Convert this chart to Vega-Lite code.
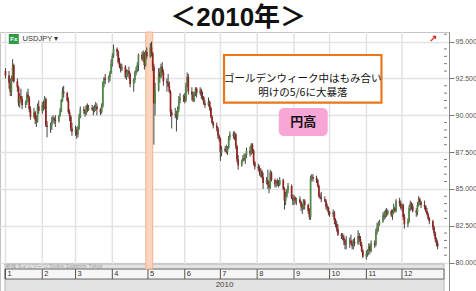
{
  "$schema": "https://vega.github.io/schema/vega-lite/v6.json",
  "width": 449,
  "height": 260,
  "padding": {"top": 5, "left": 0, "right": 0, "bottom": 0},
  "background": "white",
  "title": {"text": "＜2010年＞", "fontSize": 26, "font": "Liberation Sans, Noto Sans CJK JP", "fontWeight": "bold", "color": "#111111", "anchor": "middle", "frame": "bounds", "offset": 0},
  "config": {"view": {"stroke": "#c4c4c4", "fill": "white"}},
  "datasets": {
    "one": [{}],
    "minor": [
      {"v": 80.5}, {"v": 81}, {"v": 81.5}, {"v": 82}, {"v": 83}, {"v": 83.5}, {"v": 84}, {"v": 84.5},
      {"v": 85.5}, {"v": 86}, {"v": 86.5}, {"v": 87}, {"v": 88}, {"v": 88.5}, {"v": 89}, {"v": 89.5},
      {"v": 90.5}, {"v": 91}, {"v": 91.5}, {"v": 92}, {"v": 93}, {"v": 93.5}, {"v": 94}, {"v": 94.5}, {"v": 95.5}
    ],
    "months": [
      {"m": "2010-01-01", "n": "1"}, {"m": "2010-02-01", "n": "2"}, {"m": "2010-03-01", "n": "3"},
      {"m": "2010-04-01", "n": "4"}, {"m": "2010-05-01", "n": "5"}, {"m": "2010-06-01", "n": "6"},
      {"m": "2010-07-01", "n": "7"}, {"m": "2010-08-01", "n": "8"}, {"m": "2010-09-01", "n": "9"},
      {"m": "2010-10-01", "n": "10"}, {"m": "2010-11-01", "n": "11"}, {"m": "2010-12-01", "n": "12"}
    ],
    "fx": [
      {"d":"2010-01-01","o":93.0,"h":93.2,"l":92.5,"c":92.7},
      {"d":"2010-01-04","o":92.7,"h":93.0,"l":91.8,"c":92.2},
      {"d":"2010-01-05","o":92.2,"h":92.5,"l":91.3,"c":91.6},
      {"d":"2010-01-06","o":91.6,"h":92.7,"l":91.3,"c":92.5},
      {"d":"2010-01-07","o":92.5,"h":93.8,"l":92.3,"c":93.4},
      {"d":"2010-01-08","o":93.4,"h":93.5,"l":92.2,"c":92.3},
      {"d":"2010-01-11","o":92.3,"h":92.5,"l":91.6,"c":91.9},
      {"d":"2010-01-12","o":91.9,"h":92.0,"l":90.6,"c":90.8},
      {"d":"2010-01-13","o":90.8,"h":91.5,"l":90.5,"c":91.3},
      {"d":"2010-01-14","o":91.3,"h":91.8,"l":90.9,"c":91.1},
      {"d":"2010-01-15","o":91.1,"h":91.3,"l":90.4,"c":90.7},
      {"d":"2010-01-18","o":90.7,"h":91.0,"l":90.5,"c":90.9},
      {"d":"2010-01-19","o":90.9,"h":91.6,"l":90.7,"c":91.4},
      {"d":"2010-01-20","o":91.4,"h":91.8,"l":90.9,"c":91.2},
      {"d":"2010-01-21","o":91.2,"h":91.3,"l":90.2,"c":90.4},
      {"d":"2010-01-22","o":90.4,"h":90.6,"l":89.7,"c":89.9},
      {"d":"2010-01-25","o":89.9,"h":90.5,"l":89.8,"c":90.2},
      {"d":"2010-01-26","o":90.2,"h":90.3,"l":89.4,"c":89.7},
      {"d":"2010-01-27","o":89.7,"h":90.0,"l":89.2,"c":89.6},
      {"d":"2010-01-28","o":89.6,"h":90.8,"l":89.5,"c":90.6},
      {"d":"2010-01-29","o":90.6,"h":91.0,"l":90.1,"c":90.3},
      {"d":"2010-02-01","o":90.3,"h":90.9,"l":90.1,"c":90.7},
      {"d":"2010-02-02","o":90.7,"h":91.0,"l":90.3,"c":90.5},
      {"d":"2010-02-03","o":90.5,"h":91.3,"l":90.4,"c":91.1},
      {"d":"2010-02-04","o":91.1,"h":91.2,"l":89.2,"c":89.3},
      {"d":"2010-02-05","o":89.3,"h":89.6,"l":88.5,"c":89.2},
      {"d":"2010-02-08","o":89.2,"h":89.5,"l":88.8,"c":89.3},
      {"d":"2010-02-09","o":89.3,"h":89.9,"l":89.0,"c":89.7},
      {"d":"2010-02-10","o":89.7,"h":90.0,"l":89.5,"c":89.8},
      {"d":"2010-02-11","o":89.8,"h":89.9,"l":89.4,"c":89.7},
      {"d":"2010-02-12","o":89.7,"h":90.0,"l":89.2,"c":89.6},
      {"d":"2010-02-15","o":89.6,"h":90.0,"l":89.5,"c":90.0},
      {"d":"2010-02-16","o":90.0,"h":90.5,"l":89.9,"c":90.3},
      {"d":"2010-02-17","o":90.3,"h":91.1,"l":90.2,"c":91.0},
      {"d":"2010-02-18","o":91.0,"h":91.9,"l":90.9,"c":91.6},
      {"d":"2010-02-19","o":91.6,"h":92.0,"l":91.2,"c":91.5},
      {"d":"2010-02-22","o":91.5,"h":91.6,"l":90.9,"c":91.0},
      {"d":"2010-02-23","o":91.0,"h":91.2,"l":90.1,"c":90.2},
      {"d":"2010-02-24","o":90.2,"h":90.4,"l":89.6,"c":89.9},
      {"d":"2010-02-25","o":89.9,"h":90.0,"l":88.9,"c":89.1},
      {"d":"2010-02-26","o":89.1,"h":89.5,"l":88.6,"c":88.9},
      {"d":"2010-03-01","o":88.9,"h":89.3,"l":88.6,"c":89.0},
      {"d":"2010-03-02","o":89.0,"h":89.2,"l":88.4,"c":88.7},
      {"d":"2010-03-03","o":88.7,"h":89.3,"l":88.5,"c":89.1},
      {"d":"2010-03-04","o":89.1,"h":90.1,"l":89.0,"c":89.9},
      {"d":"2010-03-05","o":89.9,"h":90.6,"l":89.8,"c":90.4},
      {"d":"2010-03-08","o":90.4,"h":90.6,"l":90.1,"c":90.3},
      {"d":"2010-03-09","o":90.3,"h":90.4,"l":89.9,"c":90.1},
      {"d":"2010-03-10","o":90.1,"h":90.7,"l":90.0,"c":90.6},
      {"d":"2010-03-11","o":90.6,"h":90.8,"l":90.2,"c":90.4},
      {"d":"2010-03-12","o":90.4,"h":90.7,"l":90.3,"c":90.5},
      {"d":"2010-03-15","o":90.5,"h":90.7,"l":90.3,"c":90.4},
      {"d":"2010-03-16","o":90.4,"h":90.6,"l":90.0,"c":90.3},
      {"d":"2010-03-17","o":90.3,"h":90.7,"l":90.2,"c":90.5},
      {"d":"2010-03-18","o":90.5,"h":90.9,"l":90.3,"c":90.6},
      {"d":"2010-03-19","o":90.6,"h":90.8,"l":90.0,"c":90.4},
      {"d":"2010-03-22","o":90.4,"h":90.5,"l":90.0,"c":90.2},
      {"d":"2010-03-23","o":90.2,"h":90.8,"l":90.1,"c":90.6},
      {"d":"2010-03-24","o":90.6,"h":92.3,"l":90.5,"c":92.2},
      {"d":"2010-03-25","o":92.2,"h":92.6,"l":91.9,"c":92.5},
      {"d":"2010-03-26","o":92.5,"h":92.8,"l":92.1,"c":92.4},
      {"d":"2010-03-29","o":92.4,"h":92.7,"l":92.2,"c":92.6},
      {"d":"2010-03-30","o":92.6,"h":93.0,"l":92.3,"c":92.9},
      {"d":"2010-03-31","o":92.9,"h":93.8,"l":92.8,"c":93.5},
      {"d":"2010-04-01","o":93.5,"h":94.2,"l":93.3,"c":94.0},
      {"d":"2010-04-02","o":94.0,"h":94.8,"l":93.9,"c":94.5},
      {"d":"2010-04-05","o":94.5,"h":94.6,"l":94.0,"c":94.3},
      {"d":"2010-04-06","o":94.3,"h":94.4,"l":93.5,"c":93.6},
      {"d":"2010-04-07","o":93.6,"h":93.9,"l":93.2,"c":93.3},
      {"d":"2010-04-08","o":93.3,"h":93.5,"l":92.9,"c":93.1},
      {"d":"2010-04-09","o":93.1,"h":93.5,"l":93.0,"c":93.3},
      {"d":"2010-04-12","o":93.3,"h":93.4,"l":92.5,"c":92.6},
      {"d":"2010-04-13","o":92.6,"h":93.1,"l":92.4,"c":92.9},
      {"d":"2010-04-14","o":92.9,"h":93.1,"l":92.6,"c":93.0},
      {"d":"2010-04-15","o":93.0,"h":93.3,"l":92.5,"c":92.8},
      {"d":"2010-04-16","o":92.8,"h":92.9,"l":91.9,"c":92.1},
      {"d":"2010-04-19","o":92.1,"h":92.5,"l":91.6,"c":92.4},
      {"d":"2010-04-20","o":92.4,"h":93.0,"l":92.2,"c":92.9},
      {"d":"2010-04-21","o":92.9,"h":93.3,"l":92.7,"c":93.1},
      {"d":"2010-04-22","o":93.1,"h":93.6,"l":92.9,"c":93.4},
      {"d":"2010-04-23","o":93.4,"h":94.2,"l":93.0,"c":94.1},
      {"d":"2010-04-26","o":94.1,"h":94.3,"l":93.7,"c":93.8},
      {"d":"2010-04-27","o":93.8,"h":94.4,"l":93.6,"c":94.2},
      {"d":"2010-04-28","o":94.2,"h":94.3,"l":93.1,"c":93.4},
      {"d":"2010-04-29","o":93.4,"h":94.4,"l":93.3,"c":94.3},
      {"d":"2010-04-30","o":94.3,"h":94.6,"l":93.8,"c":94.0},
      {"d":"2010-05-03","o":94.0,"h":94.9,"l":93.9,"c":94.6},
      {"d":"2010-05-04","o":94.6,"h":95.0,"l":94.0,"c":94.2},
      {"d":"2010-05-05","o":94.2,"h":94.3,"l":93.0,"c":93.3},
      {"d":"2010-05-06","o":93.3,"h":93.5,"l":88.0,"c":90.8},
      {"d":"2010-05-07","o":90.8,"h":92.2,"l":90.0,"c":91.7},
      {"d":"2010-05-10","o":91.7,"h":93.2,"l":91.6,"c":92.9},
      {"d":"2010-05-11","o":92.9,"h":93.2,"l":92.2,"c":92.6},
      {"d":"2010-05-12","o":92.6,"h":93.5,"l":92.5,"c":93.3},
      {"d":"2010-05-13","o":93.3,"h":93.6,"l":92.7,"c":92.9},
      {"d":"2010-05-14","o":92.9,"h":93.1,"l":92.0,"c":92.3},
      {"d":"2010-05-17","o":92.3,"h":92.5,"l":91.6,"c":92.2},
      {"d":"2010-05-18","o":92.2,"h":92.8,"l":91.9,"c":92.0},
      {"d":"2010-05-19","o":92.0,"h":92.3,"l":91.5,"c":91.6},
      {"d":"2010-05-20","o":91.6,"h":91.7,"l":89.9,"c":90.2},
      {"d":"2010-05-21","o":90.2,"h":90.4,"l":89.1,"c":90.0},
      {"d":"2010-05-24","o":90.0,"h":90.5,"l":89.8,"c":90.1},
      {"d":"2010-05-25","o":90.1,"h":90.3,"l":88.9,"c":89.9},
      {"d":"2010-05-26","o":89.9,"h":90.6,"l":89.7,"c":90.4},
      {"d":"2010-05-27","o":90.4,"h":91.3,"l":90.2,"c":91.0},
      {"d":"2010-05-28","o":91.0,"h":91.5,"l":90.8,"c":91.2},
      {"d":"2010-05-31","o":91.2,"h":91.4,"l":90.9,"c":91.3},
      {"d":"2010-06-01","o":91.3,"h":91.5,"l":90.8,"c":91.0},
      {"d":"2010-06-02","o":91.0,"h":92.2,"l":90.9,"c":92.0},
      {"d":"2010-06-03","o":92.0,"h":92.9,"l":91.9,"c":92.6},
      {"d":"2010-06-04","o":92.6,"h":92.8,"l":91.4,"c":91.6},
      {"d":"2010-06-07","o":91.6,"h":91.9,"l":91.0,"c":91.4},
      {"d":"2010-06-08","o":91.4,"h":91.6,"l":90.9,"c":91.0},
      {"d":"2010-06-09","o":91.0,"h":91.6,"l":90.9,"c":91.5},
      {"d":"2010-06-10","o":91.5,"h":91.9,"l":91.3,"c":91.8},
      {"d":"2010-06-11","o":91.8,"h":91.9,"l":91.2,"c":91.5},
      {"d":"2010-06-14","o":91.5,"h":91.9,"l":91.4,"c":91.7},
      {"d":"2010-06-15","o":91.7,"h":91.8,"l":91.1,"c":91.3},
      {"d":"2010-06-16","o":91.3,"h":91.6,"l":91.0,"c":91.2},
      {"d":"2010-06-17","o":91.2,"h":91.3,"l":90.7,"c":90.8},
      {"d":"2010-06-18","o":90.8,"h":91.0,"l":90.5,"c":90.7},
      {"d":"2010-06-21","o":90.7,"h":91.2,"l":90.6,"c":90.9},
      {"d":"2010-06-22","o":90.9,"h":91.0,"l":90.3,"c":90.5},
      {"d":"2010-06-23","o":90.5,"h":90.6,"l":89.8,"c":89.9},
      {"d":"2010-06-24","o":89.9,"h":90.0,"l":89.4,"c":89.5},
      {"d":"2010-06-25","o":89.5,"h":89.6,"l":89.1,"c":89.3},
      {"d":"2010-06-28","o":89.3,"h":89.5,"l":88.9,"c":89.1},
      {"d":"2010-06-29","o":89.1,"h":89.2,"l":88.4,"c":88.6},
      {"d":"2010-06-30","o":88.6,"h":88.7,"l":88.2,"c":88.4},
      {"d":"2010-07-01","o":88.4,"h":88.5,"l":86.9,"c":87.5},
      {"d":"2010-07-02","o":87.5,"h":87.9,"l":87.2,"c":87.7},
      {"d":"2010-07-05","o":87.7,"h":87.9,"l":87.5,"c":87.6},
      {"d":"2010-07-06","o":87.6,"h":88.0,"l":87.4,"c":87.5},
      {"d":"2010-07-07","o":87.5,"h":87.9,"l":87.3,"c":87.8},
      {"d":"2010-07-08","o":87.8,"h":88.6,"l":87.7,"c":88.5},
      {"d":"2010-07-09","o":88.5,"h":88.9,"l":88.3,"c":88.7},
      {"d":"2010-07-12","o":88.7,"h":88.9,"l":88.4,"c":88.6},
      {"d":"2010-07-13","o":88.6,"h":88.9,"l":88.3,"c":88.7},
      {"d":"2010-07-14","o":88.7,"h":88.8,"l":87.7,"c":87.9},
      {"d":"2010-07-15","o":87.9,"h":88.0,"l":86.8,"c":87.0},
      {"d":"2010-07-16","o":87.0,"h":87.3,"l":86.3,"c":86.6},
      {"d":"2010-07-19","o":86.6,"h":87.0,"l":86.5,"c":86.9},
      {"d":"2010-07-20","o":86.9,"h":87.3,"l":86.8,"c":87.1},
      {"d":"2010-07-21","o":87.1,"h":87.4,"l":86.9,"c":87.0},
      {"d":"2010-07-22","o":87.0,"h":87.4,"l":86.7,"c":87.3},
      {"d":"2010-07-23","o":87.3,"h":87.8,"l":87.1,"c":87.6},
      {"d":"2010-07-26","o":87.6,"h":87.9,"l":87.2,"c":87.4},
      {"d":"2010-07-27","o":87.4,"h":88.1,"l":87.3,"c":88.0},
      {"d":"2010-07-28","o":88.0,"h":88.1,"l":87.4,"c":87.6},
      {"d":"2010-07-29","o":87.6,"h":87.7,"l":86.6,"c":86.8},
      {"d":"2010-07-30","o":86.8,"h":86.9,"l":86.3,"c":86.5},
      {"d":"2010-08-02","o":86.5,"h":86.7,"l":86.2,"c":86.4},
      {"d":"2010-08-03","o":86.4,"h":86.6,"l":85.9,"c":86.1},
      {"d":"2010-08-04","o":86.1,"h":86.4,"l":85.8,"c":86.2},
      {"d":"2010-08-05","o":86.2,"h":86.3,"l":85.7,"c":85.8},
      {"d":"2010-08-06","o":85.8,"h":86.1,"l":85.0,"c":85.4},
      {"d":"2010-08-09","o":85.4,"h":85.8,"l":85.3,"c":85.6},
      {"d":"2010-08-10","o":85.6,"h":86.3,"l":85.0,"c":85.3},
      {"d":"2010-08-11","o":85.3,"h":85.5,"l":84.7,"c":85.1},
      {"d":"2010-08-12","o":85.1,"h":86.3,"l":85.0,"c":86.1},
      {"d":"2010-08-13","o":86.1,"h":86.2,"l":85.5,"c":85.6},
      {"d":"2010-08-16","o":85.6,"h":85.7,"l":85.1,"c":85.3},
      {"d":"2010-08-17","o":85.3,"h":85.6,"l":85.1,"c":85.5},
      {"d":"2010-08-18","o":85.5,"h":85.7,"l":85.2,"c":85.4},
      {"d":"2010-08-19","o":85.4,"h":85.6,"l":85.1,"c":85.3},
      {"d":"2010-08-20","o":85.3,"h":85.8,"l":85.2,"c":85.6},
      {"d":"2010-08-23","o":85.6,"h":85.7,"l":84.9,"c":85.0},
      {"d":"2010-08-24","o":85.0,"h":85.1,"l":83.6,"c":84.2},
      {"d":"2010-08-25","o":84.2,"h":84.8,"l":83.9,"c":84.5},
      {"d":"2010-08-26","o":84.5,"h":85.0,"l":84.4,"c":84.9},
      {"d":"2010-08-27","o":84.9,"h":85.4,"l":84.7,"c":85.2},
      {"d":"2010-08-30","o":85.2,"h":85.3,"l":84.3,"c":84.4},
      {"d":"2010-08-31","o":84.4,"h":84.6,"l":83.9,"c":84.2},
      {"d":"2010-09-01","o":84.2,"h":84.6,"l":83.9,"c":84.4},
      {"d":"2010-09-02","o":84.4,"h":84.5,"l":84.0,"c":84.2},
      {"d":"2010-09-03","o":84.2,"h":84.4,"l":83.9,"c":84.3},
      {"d":"2010-09-06","o":84.3,"h":84.5,"l":84.0,"c":84.1},
      {"d":"2010-09-07","o":84.1,"h":84.2,"l":83.5,"c":83.8},
      {"d":"2010-09-08","o":83.8,"h":84.0,"l":83.3,"c":83.7},
      {"d":"2010-09-09","o":83.7,"h":84.3,"l":83.6,"c":84.2},
      {"d":"2010-09-10","o":84.2,"h":84.3,"l":83.6,"c":83.9},
      {"d":"2010-09-13","o":83.9,"h":84.0,"l":83.3,"c":83.5},
      {"d":"2010-09-14","o":83.5,"h":83.7,"l":82.9,"c":83.1},
      {"d":"2010-09-15","o":83.1,"h":85.9,"l":82.9,"c":85.7},
      {"d":"2010-09-16","o":85.7,"h":86.0,"l":85.5,"c":85.8},
      {"d":"2010-09-17","o":85.8,"h":86.0,"l":85.5,"c":85.7},
      {"d":"2010-09-20","o":85.7,"h":85.9,"l":85.4,"c":85.6},
      {"d":"2010-09-21","o":85.6,"h":85.7,"l":85.1,"c":85.2},
      {"d":"2010-09-22","o":85.2,"h":85.3,"l":84.4,"c":84.5},
      {"d":"2010-09-23","o":84.5,"h":84.7,"l":84.3,"c":84.4},
      {"d":"2010-09-24","o":84.4,"h":84.8,"l":84.1,"c":84.3},
      {"d":"2010-09-27","o":84.3,"h":84.5,"l":84.1,"c":84.2},
      {"d":"2010-09-28","o":84.2,"h":84.3,"l":83.6,"c":83.8},
      {"d":"2010-09-29","o":83.8,"h":84.0,"l":83.5,"c":83.7},
      {"d":"2010-09-30","o":83.7,"h":83.8,"l":83.2,"c":83.4},
      {"d":"2010-10-01","o":83.4,"h":83.5,"l":83.1,"c":83.3},
      {"d":"2010-10-04","o":83.3,"h":83.6,"l":83.1,"c":83.4},
      {"d":"2010-10-05","o":83.4,"h":83.5,"l":82.6,"c":82.9},
      {"d":"2010-10-06","o":82.9,"h":83.0,"l":82.4,"c":82.6},
      {"d":"2010-10-07","o":82.6,"h":82.8,"l":82.1,"c":82.3},
      {"d":"2010-10-08","o":82.3,"h":82.6,"l":81.8,"c":81.9},
      {"d":"2010-10-11","o":81.9,"h":82.0,"l":81.6,"c":81.8},
      {"d":"2010-10-12","o":81.8,"h":82.0,"l":81.5,"c":81.7},
      {"d":"2010-10-13","o":81.7,"h":81.9,"l":81.2,"c":81.5},
      {"d":"2010-10-14","o":81.5,"h":81.6,"l":80.9,"c":81.2},
      {"d":"2010-10-15","o":81.2,"h":81.8,"l":80.9,"c":81.4},
      {"d":"2010-10-18","o":81.4,"h":81.7,"l":81.0,"c":81.5},
      {"d":"2010-10-19","o":81.5,"h":81.9,"l":81.2,"c":81.3},
      {"d":"2010-10-20","o":81.3,"h":81.5,"l":80.9,"c":81.1},
      {"d":"2010-10-21","o":81.1,"h":81.6,"l":80.9,"c":81.4},
      {"d":"2010-10-22","o":81.4,"h":81.7,"l":81.1,"c":81.3},
      {"d":"2010-10-25","o":81.3,"h":82.2,"l":81.2,"c":81.8},
      {"d":"2010-10-26","o":81.8,"h":82.0,"l":81.4,"c":81.6},
      {"d":"2010-10-27","o":81.6,"h":81.8,"l":81.1,"c":81.2},
      {"d":"2010-10-28","o":81.2,"h":81.4,"l":80.7,"c":80.8},
      {"d":"2010-10-29","o":80.8,"h":80.9,"l":80.3,"c":80.4},
      {"d":"2010-11-01","o":80.4,"h":80.8,"l":80.2,"c":80.6},
      {"d":"2010-11-02","o":80.6,"h":80.9,"l":80.4,"c":80.8},
      {"d":"2010-11-03","o":80.8,"h":81.3,"l":80.5,"c":81.1},
      {"d":"2010-11-04","o":81.1,"h":81.3,"l":80.6,"c":80.8},
      {"d":"2010-11-05","o":80.8,"h":81.5,"l":80.7,"c":81.3},
      {"d":"2010-11-08","o":81.3,"h":81.5,"l":81.0,"c":81.2},
      {"d":"2010-11-09","o":81.2,"h":82.3,"l":81.1,"c":82.1},
      {"d":"2010-11-10","o":82.1,"h":82.7,"l":81.9,"c":82.4},
      {"d":"2010-11-11","o":82.4,"h":82.8,"l":82.1,"c":82.6},
      {"d":"2010-11-12","o":82.6,"h":82.9,"l":82.5,"c":82.8},
      {"d":"2010-11-15","o":82.8,"h":83.4,"l":82.7,"c":83.2},
      {"d":"2010-11-16","o":83.2,"h":83.5,"l":82.9,"c":83.1},
      {"d":"2010-11-17","o":83.1,"h":83.6,"l":83.0,"c":83.5},
      {"d":"2010-11-18","o":83.5,"h":83.7,"l":83.1,"c":83.3},
      {"d":"2010-11-19","o":83.3,"h":83.6,"l":83.2,"c":83.5},
      {"d":"2010-11-22","o":83.5,"h":83.6,"l":83.1,"c":83.2},
      {"d":"2010-11-23","o":83.2,"h":83.6,"l":82.9,"c":83.4},
      {"d":"2010-11-24","o":83.4,"h":84.0,"l":83.3,"c":83.7},
      {"d":"2010-11-25","o":83.7,"h":83.8,"l":83.4,"c":83.5},
      {"d":"2010-11-26","o":83.5,"h":84.3,"l":83.4,"c":84.2},
      {"d":"2010-11-29","o":84.2,"h":84.4,"l":83.8,"c":84.0},
      {"d":"2010-11-30","o":84.0,"h":84.2,"l":83.6,"c":83.7},
      {"d":"2010-12-01","o":83.7,"h":84.0,"l":83.5,"c":83.9},
      {"d":"2010-12-02","o":83.9,"h":84.0,"l":82.9,"c":83.1},
      {"d":"2010-12-03","o":83.1,"h":83.3,"l":82.3,"c":82.6},
      {"d":"2010-12-06","o":82.6,"h":83.0,"l":82.4,"c":82.8},
      {"d":"2010-12-07","o":82.8,"h":83.9,"l":82.7,"c":83.7},
      {"d":"2010-12-08","o":83.7,"h":84.2,"l":83.5,"c":84.0},
      {"d":"2010-12-09","o":84.0,"h":84.1,"l":83.6,"c":83.8},
      {"d":"2010-12-10","o":83.8,"h":84.0,"l":83.4,"c":83.5},
      {"d":"2010-12-13","o":83.5,"h":83.7,"l":83.1,"c":83.4},
      {"d":"2010-12-14","o":83.4,"h":84.1,"l":83.2,"c":83.9},
      {"d":"2010-12-15","o":83.9,"h":84.5,"l":83.8,"c":84.3},
      {"d":"2010-12-16","o":84.3,"h":84.4,"l":83.9,"c":84.1},
      {"d":"2010-12-17","o":84.1,"h":84.2,"l":83.7,"c":83.9},
      {"d":"2010-12-20","o":83.9,"h":84.2,"l":83.6,"c":83.8},
      {"d":"2010-12-21","o":83.8,"h":83.9,"l":83.4,"c":83.5},
      {"d":"2010-12-22","o":83.5,"h":83.7,"l":83.2,"c":83.3},
      {"d":"2010-12-23","o":83.3,"h":83.4,"l":82.9,"c":83.0},
      {"d":"2010-12-24","o":83.0,"h":83.1,"l":82.6,"c":82.8},
      {"d":"2010-12-27","o":82.8,"h":82.9,"l":82.2,"c":82.4},
      {"d":"2010-12-28","o":82.4,"h":82.5,"l":81.8,"c":82.0},
      {"d":"2010-12-29","o":82.0,"h":82.1,"l":81.4,"c":81.6},
      {"d":"2010-12-30","o":81.6,"h":81.7,"l":81.1,"c":81.3},
      {"d":"2010-12-31","o":81.3,"h":81.5,"l":80.9,"c":81.1}
    ]
  },
  "layer": [
    {
      "data": {"name": "one"},
      "mark": {"type": "rect", "fill": "#e3e3e3", "stroke": "#b5b5b5", "strokeWidth": 1},
      "encoding": {
        "x": {"datum": {"year": 2009, "month": 12, "date": 31, "hours": 14}, "type": "temporal", "scale": {"domain": [{"year": 2009, "month": 12, "date": 31, "hours": 14}, {"year": 2011, "month": 1, "date": 5, "hours": 9}]}, "axis": null},
        "x2": {"datum": {"year": 2011, "month": 1, "date": 5, "hours": 9}},
        "y": {"datum": 78, "type": "quantitative", "scale": {"domain": [78, 95.65], "nice": false, "zero": false}},
        "y2": {"datum": 79.9}
      }
    },
    {
      "data": {"name": "one"},
      "mark": {"type": "rect", "fill": "#f6f6f6", "stroke": "#666666", "strokeWidth": 1},
      "encoding": {
        "x": {"datum": {"year": 2009, "month": 12, "date": 31, "hours": 14}, "type": "temporal", "axis": null},
        "x2": {"datum": {"year": 2011, "month": 1, "date": 5, "hours": 9}},
        "y": {"datum": 78.88, "type": "quantitative"},
        "y2": {"datum": 79.56}
      }
    },
    {
      "data": {"name": "months"},
      "mark": {"type": "rule", "color": "#e2e2e2", "strokeWidth": 1.5},
      "encoding": {
        "x": {"field": "m", "type": "temporal", "axis": null},
        "y": {"datum": 79.9, "type": "quantitative"},
        "y2": {"datum": 95.65}
      }
    },
    {
      "data": {"name": "months"},
      "mark": {"type": "rule", "color": "#555555", "strokeWidth": 1},
      "encoding": {
        "x": {"field": "m", "type": "temporal", "axis": null},
        "y": {"datum": 78.88, "type": "quantitative"},
        "y2": {"datum": 79.56}
      }
    },
    {
      "data": {"name": "months"},
      "mark": {"type": "text", "align": "left", "baseline": "middle", "dx": 2, "fontSize": 7.5, "font": "Liberation Sans", "color": "#333333"},
      "encoding": {
        "x": {"field": "m", "type": "temporal", "axis": null},
        "y": {"datum": 79.22, "type": "quantitative"},
        "text": {"field": "n"}
      }
    },
    {
      "data": {"name": "one"},
      "mark": {"type": "rect", "fill": "#fad4be", "stroke": "#f2b08c", "strokeWidth": 1},
      "encoding": {
        "x": {"datum": {"year": 2010, "month": 4, "date": 29, "hours": 5}, "type": "temporal", "axis": null},
        "x2": {"datum": {"year": 2010, "month": 5, "date": 5}},
        "y": {"datum": 79.56, "type": "quantitative"},
        "y2": {"datum": 95.65}
      }
    },
    {
      "data": {"name": "minor"},
      "mark": {"type": "rule", "color": "#777777", "strokeWidth": 1},
      "encoding": {
        "x": {"datum": {"year": 2011, "month": 1, "date": 5, "hours": 9}, "type": "temporal", "axis": null},
        "x2": {"datum": {"year": 2011, "month": 1, "date": 7, "hours": 20}},
        "y": {"field": "v", "type": "quantitative"}
      }
    },
    {
      "data": {"name": "fx"},
      "mark": {"type": "rule", "color": "#444444", "strokeWidth": 1},
      "encoding": {
        "x": {"field": "d", "type": "temporal", "axis": null},
        "y": {"field": "l", "type": "quantitative",
          "axis": {
            "orient": "right",
            "title": null,
            "values": [80, 82.5, 85, 87.5, 90, 92.5, 95],
            "format": ".3f",
            "labelOverlap": false,
            "labelFont": "Liberation Sans",
            "labelFontSize": 7,
            "labelColor": "#555555",
            "labelPadding": 1,
            "tickColor": "#777777",
            "tickSize": 5,
            "domainColor": "#888888",
            "grid": true,
            "gridColor": "#e2e2e2",
            "gridWidth": 1.5
          }
        },
        "y2": {"field": "h"}
      }
    },
    {
      "data": {"name": "fx"},
      "mark": {"type": "bar", "size": 1.7},
      "encoding": {
        "x": {"field": "d", "type": "temporal", "axis": null},
        "y": {"field": "o", "type": "quantitative"},
        "y2": {"field": "c"},
        "color": {"condition": {"test": "datum.c >= datum.o", "value": "#4f8a45"}, "value": "#98201c"}
      }
    },
    {
      "data": {"name": "one"},
      "mark": {"type": "rect", "fill": "white", "stroke": "#e8761c", "strokeWidth": 2.2},
      "encoding": {
        "x": {"datum": {"year": 2010, "month": 7, "date": 4, "hours": 2}, "type": "temporal", "axis": null},
        "x2": {"datum": {"year": 2010, "month": 11, "date": 13, "hours": 17}},
        "y": {"datum": 90.85, "type": "quantitative"},
        "y2": {"datum": 94.09}
      }
    },
    {
      "data": {"name": "one"},
      "mark": {"type": "text", "align": "center", "baseline": "middle", "fontSize": 10.5, "font": "Noto Sans CJK JP", "color": "#111111", "lineHeight": 14.5},
      "encoding": {
        "x": {"datum": {"year": 2010, "month": 9, "date": 8, "hours": 10}, "type": "temporal", "axis": null},
        "y": {"datum": 92.48, "type": "quantitative"},
        "text": {"value": ["ゴールデンウィーク中はもみ合い", "明けの5/6に大暴落"]}
      }
    },
    {
      "data": {"name": "one"},
      "mark": {"type": "rect", "fill": "#f8a6d6", "cornerRadius": 5},
      "encoding": {
        "x": {"datum": {"year": 2010, "month": 8, "date": 19, "hours": 5}, "type": "temporal", "axis": null},
        "x2": {"datum": {"year": 2010, "month": 9, "date": 29, "hours": 10}},
        "y": {"datum": 88.59, "type": "quantitative"},
        "y2": {"datum": 90.49}
      }
    },
    {
      "data": {"name": "one"},
      "mark": {"type": "text", "align": "center", "baseline": "middle", "fontSize": 13, "font": "Noto Sans CJK JP", "fontWeight": "bold", "color": "#111111"},
      "encoding": {
        "x": {"datum": {"year": 2010, "month": 9, "date": 8, "hours": 19}, "type": "temporal", "axis": null},
        "y": {"datum": 89.54, "type": "quantitative"},
        "text": {"value": "円高"}
      }
    },
    {
      "data": {"name": "one"},
      "mark": {"type": "square", "filled": true, "size": 100, "color": "#2f9a46", "opacity": 1},
      "encoding": {
        "x": {"datum": {"year": 2010, "month": 1, "date": 8}, "type": "temporal", "axis": null},
        "y": {"datum": 95.175, "type": "quantitative"}
      }
    },
    {
      "data": {"name": "one"},
      "mark": {"type": "text", "align": "center", "baseline": "middle", "fontSize": 6, "font": "Liberation Sans", "fontWeight": "bold", "color": "white"},
      "encoding": {
        "x": {"datum": {"year": 2010, "month": 1, "date": 8}, "type": "temporal", "axis": null},
        "y": {"datum": 95.175, "type": "quantitative"},
        "text": {"value": "Fx"}
      }
    },
    {
      "data": {"name": "one"},
      "mark": {"type": "text", "align": "left", "baseline": "middle", "fontSize": 7.5, "font": "Liberation Sans", "color": "#333333"},
      "encoding": {
        "x": {"datum": {"year": 2010, "month": 1, "date": 15, "hours": 10}, "type": "temporal", "axis": null},
        "y": {"datum": 95.175, "type": "quantitative"},
        "text": {"value": "USDJPY  ▾"}
      }
    },
    {
      "data": {"name": "one"},
      "mark": {"type": "text", "align": "center", "baseline": "middle", "fontSize": 10, "font": "DejaVu Sans", "fontWeight": "bold", "color": "#d01818"},
      "encoding": {
        "x": {"datum": {"year": 2010, "month": 12, "date": 27, "hours": 7}, "type": "temporal", "axis": null},
        "y": {"datum": 95.2, "type": "quantitative"},
        "text": {"value": "↗"}
      }
    },
    {
      "data": {"name": "one"},
      "mark": {"type": "text", "align": "center", "baseline": "middle", "fontSize": 8, "font": "Liberation Sans", "color": "#444444"},
      "encoding": {
        "x": {"datum": {"year": 2010, "month": 7, "date": 4, "hours": 12}, "type": "temporal", "axis": null},
        "y": {"datum": 78.46, "type": "quantitative"},
        "text": {"value": "2010"}
      }
    },
    {
      "data": {"name": "one"},
      "mark": {"type": "text", "align": "left", "baseline": "middle", "fontSize": 5, "font": "Noto Sans CJK JP", "color": "#9a9a9a"},
      "encoding": {
        "x": {"datum": {"year": 2010, "month": 1, "date": 1, "hours": 9}, "type": "temporal", "axis": null},
        "y": {"datum": 79.76, "type": "quantitative"},
        "text": {"value": "終値  タイムゾーン: Osaka, Sapporo, Tokyo"}
      }
    }
  ]
}
